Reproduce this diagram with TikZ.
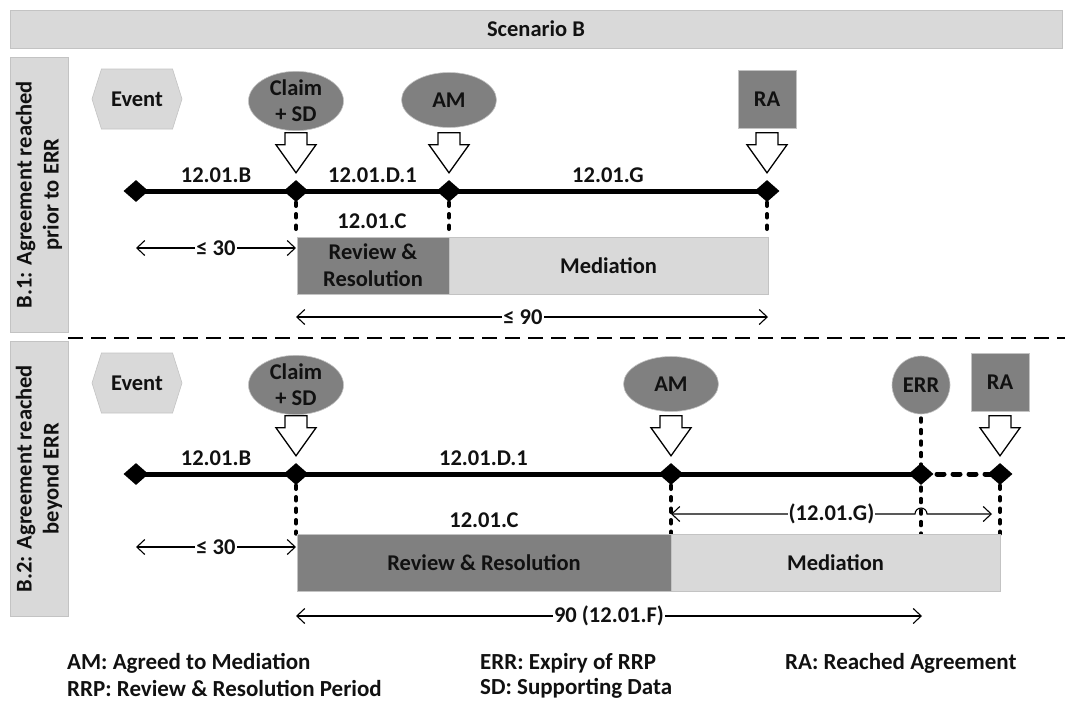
\documentclass[tikz,border=0pt]{standalone}
\usepackage{fontspec}
\setmainfont{Carlito}
\usetikzlibrary{shapes.geometric,shapes.symbols,arrows.meta,backgrounds,calc}

\definecolor{panelgray}{HTML}{D9D9D9}
\definecolor{markgray}{HTML}{808080}
\definecolor{rimgray}{HTML}{C3C3C3}
\definecolor{inkblack}{HTML}{111111}

\tikzset{
  lbl/.style={font=\fontsize{22.5}{27}\selectfont\bfseries, text=inkblack},
  legendtext/.style={font=\fontsize{23}{27}\selectfont\bfseries, text=inkblack, anchor=west, inner sep=0pt},
  panel/.style={fill=panelgray, draw=rimgray, line width=0.8pt, inner sep=0pt},
  sidebar/.style={panel, rotate=90, minimum width=275pt, minimum height=58pt, align=center, lbl},
  eventbox/.style={signal, signal to=west and east, signal pointer angle=145, fill=panelgray,
    draw=rimgray, line width=0.6pt, minimum width=90pt, minimum height=60pt, inner sep=0pt, lbl},
  oval/.style={ellipse, fill=markgray, draw=rimgray, line width=0.6pt, minimum width=95pt,
    minimum height=55pt, inner sep=0pt, align=center, lbl, font=\fontsize{22.5}{26}\selectfont\bfseries},
  roundmark/.style={circle, fill=markgray, draw=rimgray, line width=0.6pt, minimum size=58pt, inner sep=0pt, lbl},
  squaremark/.style={rectangle, fill=markgray, draw=rimgray, line width=0.8pt, minimum size=58pt, inner sep=0pt, lbl},
  milestone/.style={diamond, fill=black, minimum width=25pt, minimum height=22pt, inner sep=0pt},
  darkbar/.style={rectangle, fill=markgray, draw=rimgray, line width=0.6pt, minimum height=57pt,
    inner sep=0pt, align=center, lbl},
  lightbar/.style={rectangle, fill=panelgray, draw=rimgray, line width=0.6pt, minimum height=57pt,
    inner sep=0pt, align=center, lbl},
  timeline/.style={line width=5pt},
  gapline/.style={line width=5pt, line cap=round, dash pattern=on 7pt off 9pt},
  dropline/.style={line width=4pt, line cap=round, dash pattern=on 3.5pt off 8pt},
  dim/.style={line width=1.1pt, arrows={Straight Barb[length=8pt,width=15pt,line width=1.1pt]-Straight Barb[length=8pt,width=15pt,line width=1.1pt]}},
  dimlabel/.style={lbl, fill=white, inner xsep=1pt, inner ysep=0pt},
  blockarrow/.pic={
    \draw[fill=white, line width=1.3pt, line join=miter]
      (0,0) -- (-20,-28) -- (-11,-28) -- (-11,-40) -- (11,-40) -- (11,-28) -- (20,-28) -- cycle;
  }
}

\begin{document}
\begin{tikzpicture}[x=1pt, y=-1pt]
\useasboundingbox (0,0) rectangle (1065,702);

% heading and row labels
\node[panel, minimum width=1052pt, minimum height=38pt, lbl] (title) at (536,29) {Scenario B};
\node[sidebar] (side1) at (39,194.5) {B.1: Agreement reached\\prior to ERR};
\node[sidebar] (side2) at (39,478.5) {B.2: Agreement reached\\beyond ERR};
\draw[line width=2pt, dash pattern=on 15pt off 8pt] (68,338) -- (1065,338);

% ---------- B.1 ----------
\node[milestone] (d11) at (136,191) {};
\node[milestone] (d12) at (296,191) {};
\node[milestone] (d13) at (449,191) {};
\node[milestone] (d14) at (767,191) {};

\node[eventbox] (ev1) at (137,99) {Event};
\node[oval] (cl1) at (296,101) {Claim\\+ SD};
\node[oval] (am1) at (449,100) {AM};
\node[squaremark] (ra1) at (767,99) {RA};

\node[darkbar, minimum width=152pt] (rr1) at (373,265.5) {Review \&\\Resolution};
\node[lightbar, minimum width=319pt] (med1) at (608.5,265.5) {Mediation};

\begin{scope}[on background layer]
  \draw[timeline] (d11.center) -- (d14.center);
  \draw[dropline] (d12.center) -- (d12 |- rr1.north);
  \draw[dropline] (d13.center) -- (d13 |- rr1.north);
  \draw[dropline] (d14.center) -- (d14 |- med1.north);
\end{scope}

\pic (pa11) at ($(d12.north)+(0,-7)$) {blockarrow};
\pic (pa12) at ($(d13.north)+(0,-7)$) {blockarrow};
\pic (pa13) at ($(d14.north)+(0,-7)$) {blockarrow};

\node[lbl] (t11) at ($(d11)!0.5!(d12)+(0,-16)$) {12.01.B};
\node[lbl] (t12) at ($(d12)!0.5!(d13)+(0,-16)$) {12.01.D.1};
\node[lbl] (t13) at ($(d13)!0.5!(d14)+(0,-16)$) {12.01.G};
\node[lbl] (t14) at (372,221) {12.01.C};

\coordinate (w1a) at (136,248);
\coordinate (w1b) at (296,248);
\draw[dim] (w1a) -- (w1b) node[dimlabel, midway] (l11) {≤ 30};
\coordinate (n1a) at (296,317);
\coordinate (n1b) at (768,317);
\draw[dim] (n1a) -- (n1b);
\node[dimlabel] (l12) at (523,317) {≤ 90};

% ---------- B.2 ----------
\node[milestone] (d21) at (136,474) {};
\node[milestone] (d22) at (296,474) {};
\node[milestone] (d23) at (671,474) {};
\node[milestone] (d24) at (921,474) {};
\node[milestone] (d25) at (1000,474) {};

\node[eventbox] (ev2) at (137,383) {Event};
\node[oval] (cl2) at (296,385) {Claim\\+ SD};
\node[oval] (am2) at (671,384) {AM};
\node[roundmark] (err2) at (921,385) {ERR};
\node[squaremark] (ra2) at (1000,382) {RA};

\node[darkbar, minimum width=374pt] (rr2) at (484,562.5) {Review \& Resolution};
\node[lightbar, minimum width=329pt] (med2) at (835.5,562.5) {Mediation};

\begin{scope}[on background layer]
  \draw[timeline] (d21.center) -- (d24.center);
  \draw[gapline] (d24.center) -- (d25.center);
  \draw[dropline] (d22.center) -- (d22 |- rr2.north);
  \draw[dropline] (d23.center) -- (d23 |- med2.north);
  \draw[dropline] ($(err2.south)+(0,4)$) -- (d24 |- med2.north);
  \draw[dropline] (d25.center) -- (d25 |- med2.north);
\end{scope}

\pic (pa21) at ($(d22.north)+(0,-7)$) {blockarrow};
\pic (pa22) at ($(d23.north)+(0,-7)$) {blockarrow};
\pic (pa23) at ($(d25.north)+(0,-7)$) {blockarrow};

\node[lbl] (t21) at ($(d21)!0.5!(d22)+(0,-16)$) {12.01.B};
\node[lbl] (t22) at ($(d22)!0.5!(d23)+(0,-16)$) {12.01.D.1};
\node[lbl] (t23) at (484,520) {12.01.C};

\coordinate (g2a) at (671,514);
\coordinate (g2b) at (992,514);
\draw[dim] (g2a) -- ($(d24 |- g2a)+(-6,0)$) arc[start angle=180, end angle=0, radius=6pt] -- (g2b);
\node[dimlabel] (l21) at ($(g2a)!0.5!(g2b)$) {(12.01.G)};

\coordinate (w2a) at (136,547);
\coordinate (w2b) at (296,547);
\draw[dim] (w2a) -- (w2b) node[dimlabel, midway] (l22) {≤ 30};
\coordinate (n2a) at (296,616);
\coordinate (n2b) at (922,616);
\draw[dim] (n2a) -- (n2b) node[dimlabel, midway] (l23) {90 (12.01.F)};

% ---------- legend ----------
\node[legendtext] (k1) at (67,663) {AM: Agreed to Mediation};
\node[legendtext] (k2) at (67,688) {RRP: Review \& Resolution Period};
\node[legendtext] (k3) at (480,663) {ERR: Expiry of RRP};
\node[legendtext] (k4) at (480,688) {SD: Supporting Data};
\node[legendtext] (k5) at (785,663) {RA: Reached Agreement};
\end{tikzpicture}
\end{document}
